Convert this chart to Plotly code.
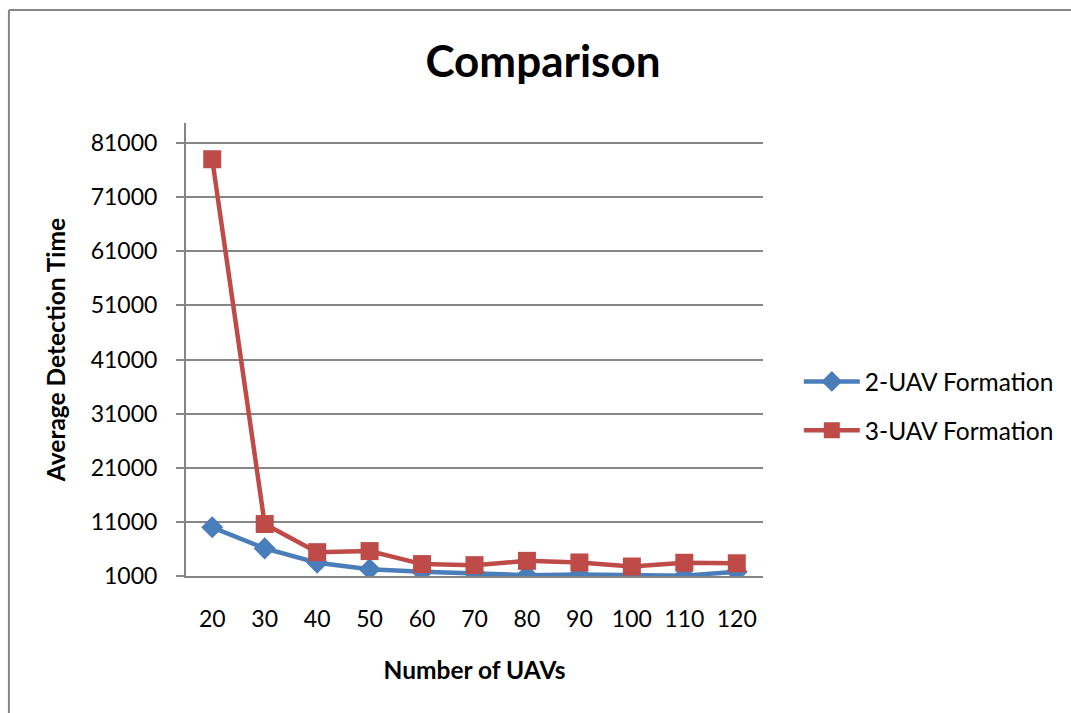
import plotly.graph_objects as go

categories = ["20", "30", "40", "50", "60", "70", "80", "90", "100", "110", "120"]
uav2 = [10000, 6100, 3450, 2250, 1800, 1550, 1150, 1300, 1250, 1050, 1800]
uav3 = [78000, 10600, 5400, 5600, 3200, 3000, 3800, 3500, 2750, 3450, 3350]
series_names = ["2-UAV Formation", "3-UAV Formation"]
y_ticks = [1000, 11000, 21000, 31000, 41000, 51000, 61000, 71000, 81000]

W, H = 1071, 713
L, R, T, B = 186, 766, 123, 576
GRAY = "#868686"
FONT = "Lato, Carlito, Calibri, sans-serif"

fig = go.Figure()
fig.add_trace(go.Scatter(
    x=categories, y=uav2, name=series_names[0], mode="lines+markers",
    line=dict(color="#4A7EBB", width=4.5),
    marker=dict(symbol="diamond", size=17, color="#4A7EBB"),
    legendgroup="a",
))
fig.add_trace(go.Scatter(
    x=categories, y=uav3, name=series_names[1], mode="lines+markers",
    line=dict(color="#BE4B48", width=4.5),
    marker=dict(symbol="square", size=18, color="#BE4B48"),
    legendgroup="b",
))

def px_x(p):
    return (p - L) / (R - L)

def px_y(p):
    return (B - p) / (B - T)

# chart-area border (only left and top edges visible)
fig.add_shape(type="line", xref="paper", yref="paper",
              x0=px_x(8), x1=px_x(8), y0=px_y(10), y1=px_y(720),
              line=dict(color=GRAY, width=2))
fig.add_shape(type="line", xref="paper", yref="paper",
              x0=px_x(8), x1=px_x(1080), y0=px_y(10), y1=px_y(10),
              line=dict(color=GRAY, width=2))

y_top = 1000 + (B - T) / ((576 - 143) / 80000)

fig.update_layout(
    width=W, height=H,
    margin=dict(l=L, r=W - R, t=T, b=H - B, pad=0),
    paper_bgcolor="white", plot_bgcolor="white",
    font=dict(family=FONT, color="black", size=23),
    title=dict(text="<b>Comparison</b>", font=dict(size=44, family=FONT),
               xref="container", yref="container",
               x=543 / W, xanchor="center", y=1 - 62 / H, yanchor="middle"),
    showlegend=True,
    legend=dict(x=px_x(802), xanchor="left", y=px_y(406), yanchor="middle",
                font=dict(size=24.5, family=FONT), itemwidth=56,
                tracegroupgap=14, bgcolor="rgba(0,0,0,0)"),
    xaxis=dict(
        type="category", range=[-0.5, 10.5],
        showline=True, linecolor=GRAY, linewidth=2,
        showgrid=False, ticks="", ticklabelstandoff=21,
        tickfont=dict(size=23, family=FONT),
        title=dict(text="<b>Number of UAVs</b>", font=dict(size=24.5, family=FONT), standoff=31),
    ),
    yaxis=dict(
        range=[1000, y_top], tickmode="array", tickvals=y_ticks,
        ticktext=[str(v) for v in y_ticks],
        showline=True, linecolor=GRAY, linewidth=2,
        showgrid=True, gridcolor=GRAY, gridwidth=1.5,
        ticks="outside", ticklen=8, tickcolor=GRAY, tickwidth=1.5,
        ticklabelstandoff=14, zeroline=False,
        tickfont=dict(size=23, family=FONT),
        title=dict(text="<b>Average Detection Time</b>", font=dict(size=24.5, family=FONT), standoff=18),
    ),
)

fig.write_html("out.html")
